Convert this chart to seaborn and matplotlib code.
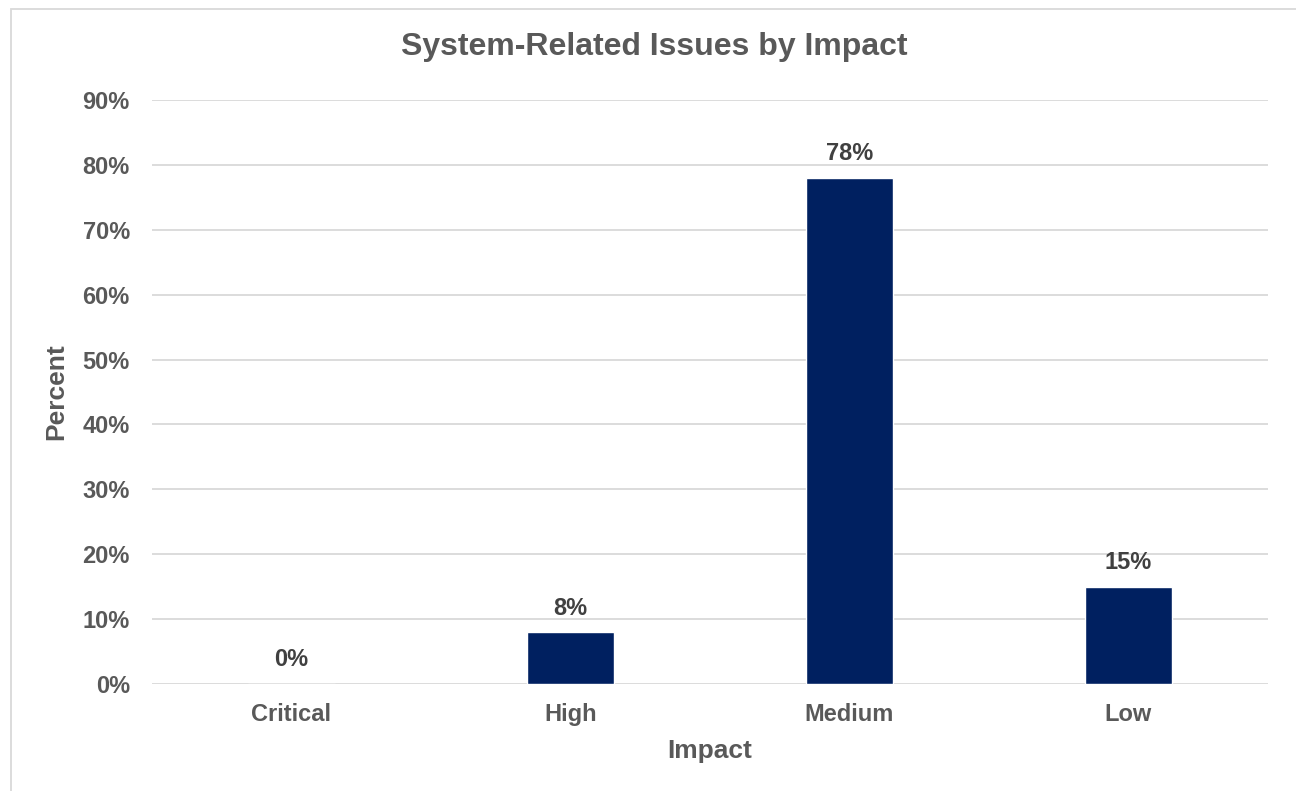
import matplotlib
matplotlib.use("Agg")
import matplotlib.pyplot as plt
import seaborn as sns
import pandas as pd
from matplotlib.patches import Rectangle

categories = ["Critical", "High", "Medium", "Low"]
values = [0, 8, 78, 15]
yticks = [0, 10, 20, 30, 40, 50, 60, 70, 80, 90]

sns.set_style("white")
plt.rcParams['font.family'] = ['Liberation Sans', 'DejaVu Sans']
plt.rcParams['font.weight'] = 'bold'

grey = "#595959"
navy = "#002060"

fig = plt.figure(figsize=(12.96, 7.91), dpi=100)
ax = fig.add_axes([152/1296, 1 - 684/791, (1268-152)/1296, (684-100)/791])

df = pd.DataFrame({"Impact": categories, "Percent": values})
sns.barplot(data=df, x="Impact", y="Percent", color=navy, width=0.31, ax=ax, saturation=1)

ax.set_ylim(0, 90)
ax.set_xlim(-0.5, 3.5)
ax.set_yticks(yticks)
ax.set_yticklabels([f"{t}%" for t in yticks])
ax.yaxis.grid(True, color="#D9D9D9", linewidth=1.3)
ax.set_axisbelow(True)
for s in ax.spines.values():
    s.set_visible(False)
ax.tick_params(axis='both', length=0, labelsize=17, labelcolor=grey)
ax.tick_params(axis='y', pad=16)
ax.tick_params(axis='x', pad=14)
for lab in ax.get_xticklabels() + ax.get_yticklabels():
    lab.set_fontweight('bold')

for i, v in enumerate(values):
    ax.annotate(f"{v}%", (i, v), xytext=(0, 9), textcoords="offset points",
                ha="center", va="bottom", fontsize=17, fontweight="bold", color="#404040")

ax.set_xlabel("Impact", fontsize=19, fontweight="bold", color=grey, labelpad=9)
ax.set_ylabel("Percent", fontsize=19, fontweight="bold", color=grey, labelpad=10)

fig.text(654/1296, 1 - 47/791, "System-Related Issues by Impact", ha="center", va="center",
         fontsize=23, fontweight="bold", color=grey)

fig.add_artist(Rectangle((11/1296, -0.1), 1.2, 1 - 9/791 + 0.1, transform=fig.transFigure,
                         fill=False, edgecolor="#D9D9D9", linewidth=1.3))

fig.savefig("out.png", dpi=100)
